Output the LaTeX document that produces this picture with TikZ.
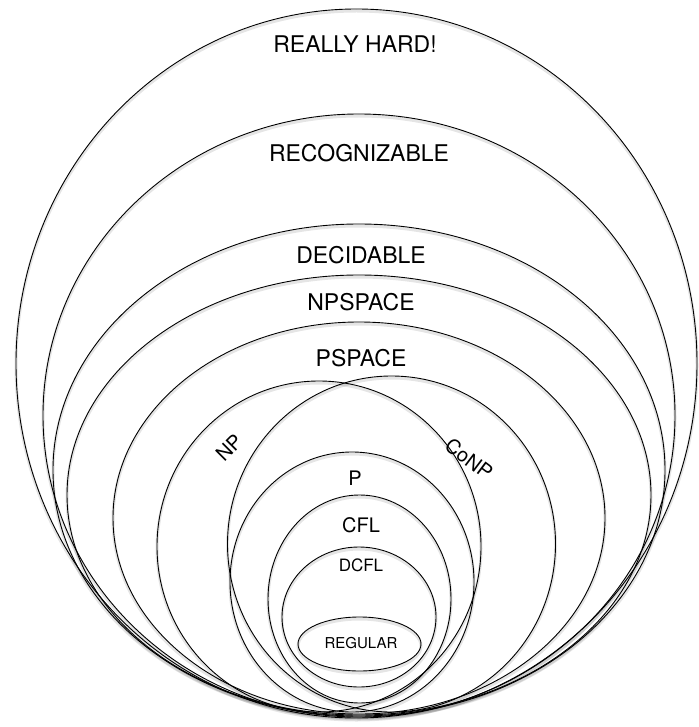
\documentclass[tikz,border=0pt]{standalone}
\usepackage{fontspec}
\setmainfont{TeX Gyre Heros}
\begin{document}
\begin{tikzpicture}[x=1pt,y=-1pt,
  setline/.style={draw=black,line width=0.9pt},
  shade/.style={draw=black,line width=3pt,draw opacity=0.10},
  biglabel/.style={font=\fontsize{23}{23}\selectfont,inner sep=0pt},
  midlabel/.style={font=\fontsize{20}{20}\selectfont,inner sep=0pt},
  smalllabel/.style={font=\fontsize{17}{17}\selectfont,inner sep=0pt},
  tinylabel/.style={font=\fontsize{15}{15}\selectfont,inner sep=0pt}]
\useasboundingbox (0,0) rectangle (698,727);
% shadows
\foreach \cx/\cy/\rx/\ry in {356.5/363.5/340.5/354.5, 359/415.5/316/301.5, 359/470/306/246, 359/495/292/220, 359/518/246/196, 319/546.5/162/165.5, 391.5/544/164/168, 352/582/122/130, 359.5/599/91.5/104, 359/617/77/70, 359.5/644/61.5/27}
  \draw[shade] (\cx,\cy+2) ellipse [x radius=\rx pt, y radius=\ry pt];
% sets
\draw[setline] (356.5,363.5) ellipse [x radius=340.5pt, y radius=354.5pt];
\draw[setline] (359,415.5) ellipse [x radius=316pt, y radius=301.5pt];
\draw[setline] (359,470) ellipse [x radius=306pt, y radius=246pt];
\draw[setline] (359,495) ellipse [x radius=292pt, y radius=220pt];
\draw[setline] (359,518) ellipse [x radius=246pt, y radius=196pt];
\draw[setline] (319,546.5) ellipse [x radius=162pt, y radius=165.5pt];
\draw[setline] (391.5,544) ellipse [x radius=164pt, y radius=168pt];
\draw[setline] (352,582) ellipse [x radius=122pt, y radius=130pt];
\draw[setline] (359.5,599) ellipse [x radius=91.5pt, y radius=104pt];
\draw[setline] (359,617) ellipse [x radius=77pt, y radius=70pt];
\draw[setline] (359.5,644) ellipse [x radius=61.5pt, y radius=27pt];
% labels
\node[biglabel] (hard) at (355,44) {REALLY HARD!};
\node[biglabel] (recog) at (359,153) {RECOGNIZABLE};
\node[biglabel] (decid) at (361,255) {DECIDABLE};
\node[biglabel] (npspace) at (361,302) {NPSPACE};
\node[biglabel] (pspace) at (361,358) {PSPACE};
\node[midlabel,rotate=45] (np) at (229,448) {NP};
\node[midlabel,rotate=-37] (conp) at (469,459) {CoNP};
\node[midlabel] (p) at (355,478) {P};
\node[midlabel] (cfl) at (361,525) {CFL};
\node[smalllabel] (dcfl) at (361,565) {DCFL};
\node[tinylabel] (regular) at (361,643) {REGULAR};
\end{tikzpicture}
\end{document}
